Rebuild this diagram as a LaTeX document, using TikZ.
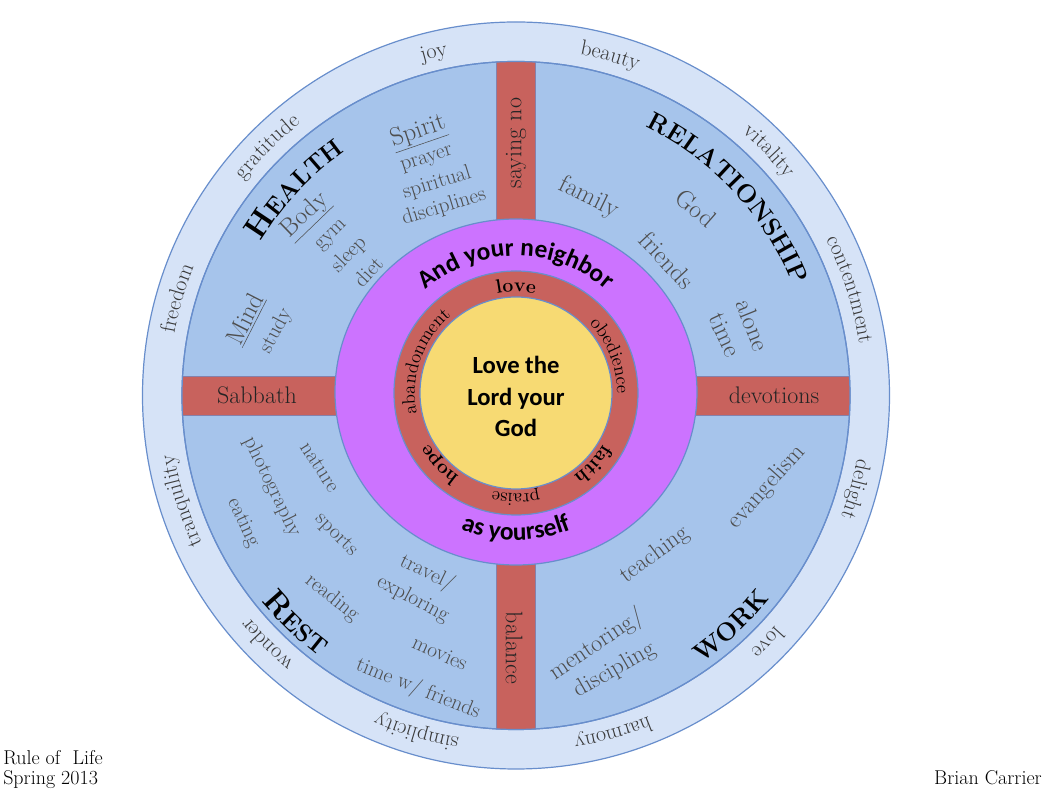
\documentclass[tikz,border=0pt]{standalone}
\usepackage{fontspec}
\newfontfamily\calibri{Carlito}
\usetikzlibrary{decorations.text}
\definecolor{outerblue}{RGB}{214,227,247}
\definecolor{innerblue}{RGB}{166,196,235}
\definecolor{ringblue}{RGB}{104,142,204}
\definecolor{barred}{RGB}{200,98,93}
\definecolor{neighbor}{RGB}{204,115,255}
\definecolor{coreyellow}{RGB}{247,218,115}
\definecolor{itemgray}{RGB}{78,78,78}
\definecolor{ringtxt}{RGB}{58,58,58}
\definecolor{bartxt}{RGB}{36,36,36}
\newcommand{\ringfont}{\fontsize{16.5}{20}\selectfont}
\newcommand{\innerfont}{\fontsize{14}{16}\selectfont}
\newcommand{\innerbold}{\bfseries\fontsize{14.5}{16}\selectfont}
\newcommand{\capbig}{\bfseries\fontsize{24}{24}\selectfont}
\newcommand{\capsmall}{\bfseries\fontsize{18.5}{18.5}\selectfont}
\newcommand{\capfull}{\bfseries\fontsize{19}{19}\selectfont}
\newcommand{\neighborfont}{\calibri\bfseries\fontsize{19}{19}\selectfont}

\begin{document}
\begin{tikzpicture}[x=0.75pt,y=0.75pt,
    item/.style={text=itemgray,inner sep=1pt,font=\fontsize{16}{19}\selectfont},
    bigitem/.style={item,font=\fontsize{19}{22}\selectfont},
    workitem/.style={item,font=\fontsize{18}{21}\selectfont},
    subhead/.style={item,font=\fontsize{19}{22}\selectfont},
    barlabel/.style={text=bartxt,inner sep=1pt,font=\fontsize{18}{21}\selectfont},
    ringline/.style={draw=ringblue,line width=0.9},
    barline/.style={draw=ringblue!70!barred,line width=0.6},
    corner/.style={inner sep=0pt,font=\fontsize{15}{15}\selectfont},
    wordpath/.style={decorate,decoration={text along path,text align=center,
      text color=ringtxt,#1}}]
  \useasboundingbox (-516,-402.5) rectangle (538,395.5);

  % Rings and the four crossbars.
  \draw[ringline,fill=outerblue] (0,0) circle (373.5);
  \draw[ringline,fill=innerblue] (0,0) circle (334);
  \begin{scope}
    \clip (0,0) circle (334);
    \draw[barline,fill=barred] (-19.5,-340) rectangle (19.5,340);
    \draw[barline,fill=barred] (-340,-19.5) rectangle (340,19.5);
  \end{scope}
  \draw[ringline] (0,0) circle (334);

  % Outer ring words.
  \foreach \ang/\word in {103.5/joy,74.5/beauty,135/gratitude,44/vitality,
      164/freedom,17.6/contentment,197.5/tranquility,-15.5/delight,
      225/wonder,-44.5/love,253.5/simplicity,286/harmony}{
    \path[wordpath={text/.expanded={|\noexpand\ringfont|\word}}]
      (\ang+25:347) arc[start angle=\ang+25,end angle=\ang-25,radius=347];
  }

  % Quadrant titles.
  \path[wordpath={text color=black,text={|\capbig|H|\capsmall|EALTH}}]
    (177:298) arc[start angle=177,end angle=97,radius=298];
  \path[wordpath={text color=black,text={|\capfull|RELATIONSHIP}}]
    (93:298) arc[start angle=93,end angle=-7,radius=298];
  \path[wordpath={text color=black,text={|\capbig|R|\capsmall|EST}}]
    (186:327) arc[start angle=186,end angle=266,radius=327];
  \path[wordpath={text color=black,text={|\capfull|WORK}}]
    (-87:325) arc[start angle=-87,end angle=-7,radius=325];

  % Health.
  \node[subhead,rotate=44] (body) at (-210,179.5) {\underline{Body}};
  \node[item,rotate=45] (gym) at (-184,160) {gym};
  \node[item,rotate=46] (sleep) at (-167,141) {sleep};
  \node[item,rotate=47] (diet) at (-148,123.5) {diet};
  \node[subhead,rotate=19] (spirit) at (-97.5,263) {\underline{Spirit}};
  \node[item,rotate=18] (prayer) at (-89,235.5) {prayer};
  \node[item,rotate=17] (spiritual) at (-79,212.5) {spiritual};
  \node[item,rotate=17] (disciplines) at (-72,188.5) {disciplines};
  \node[subhead,rotate=63] (mind) at (-270,76) {\underline{Mind}};
  \node[item,rotate=62] (study) at (-240,64.5) {study};

  % Relationship.
  \node[bigitem,rotate=-26] (family) at (73,197.5) {family};
  \node[bigitem,rotate=-41] (god) at (180,187.5) {God};
  \node[bigitem,rotate=-47] (friends) at (151,135.5) {friends};
  \node[bigitem,rotate=-68] (alone) at (237,70.5) {alone};
  \node[bigitem,rotate=-65] (time) at (209,60.5) {time};

  % Work.
  \node[workitem,rotate=48] (evangelism) at (251,-91.5) {evangelism};
  \node[workitem,rotate=36] (teaching) at (139,-159.5) {teaching};
  \node[workitem,rotate=34] (mentoring) at (81,-249.5) {mentoring/};
  \node[workitem,rotate=30] (discipling) at (99,-274.5) {discipling};

  % Rest.
  \node[item,rotate=-64] (photography) at (-244,-91.5) {photography};
  \node[item,rotate=-65] (eating) at (-273,-127.5) {eating};
  \node[item,rotate=-57] (nature) at (-196,-71.5) {nature};
  \node[item,rotate=-45] (sports) at (-180,-139.5) {sports};
  \node[item,rotate=-26] (travel) at (-89,-177.5) {travel/};
  \node[item,rotate=-28] (exploring) at (-103,-203.5) {exploring};
  \node[item,rotate=-39] (reading) at (-184,-202.5) {reading};
  \node[item,rotate=-24] (movies) at (-76,-257.5) {movies};
  \node[item,rotate=-22] (friendtime) at (-98,-293.5) {time w/ friends};

  % Crossbar labels.
  \node[barlabel,rotate=90] (sayno) at (0,252.5) {saying no};
  \node[barlabel,rotate=-90] (balance) at (-2,-252.5) {balance};
  \node[barlabel] (sabbath) at (-259,0) {Sabbath};
  \node[barlabel] (devotions) at (258,0) {devotions};

  % Neighbour ring, virtue ring and the core.
  \begin{scope}[shift={(0,2.5)}]
    \draw[ringline,fill=neighbor] (0,1) ellipse (181 and 173);
    \draw[ringline,fill=barred] (0,0) circle (122);
    \draw[ringline,fill=coreyellow] (0,0) circle (96);
    \path[wordpath={text color=black,text={|\neighborfont|And your neighbor}}]
      (150:137) arc[start angle=150,end angle=30,radius=137];
    \path[wordpath={text color=black,text={|\neighborfont|as yourself}}]
      (235:147) arc[start angle=235,end angle=305,radius=147];
    \foreach \ang/\word in {21.5/obedience,-90/praise,160.75/abandonment}{
      \path[wordpath={text color=black,text/.expanded={|\noexpand\innerfont|\word}}]
        (\ang+45:101) arc[start angle=\ang+45,end angle=\ang-45,radius=101];
    }
    \foreach \ang/\word in {90/love,-42.8/faith,223/hope}{
      \path[wordpath={text color=black,text/.expanded={|\noexpand\innerbold|\word}}]
        (\ang+45:101) arc[start angle=\ang+45,end angle=\ang-45,radius=101];
    }
    \node[align=center,inner sep=0pt,
      font=\calibri\bfseries\fontsize{18.5}{23.5}\selectfont] (core) at (0,-3.5)
      {Love the\\Lord your\\God};
  \end{scope}

  % Corner notes.
  \node[corner,anchor=base west] (title) at (-513,-369.5) {Rule of~ Life};
  \node[corner,anchor=base west] (season) at (-513,-389.5) {Spring 2013};
  \node[corner,anchor=base east] (author) at (526,-389.5) {Brian Carrier};
\end{tikzpicture}
\end{document}
